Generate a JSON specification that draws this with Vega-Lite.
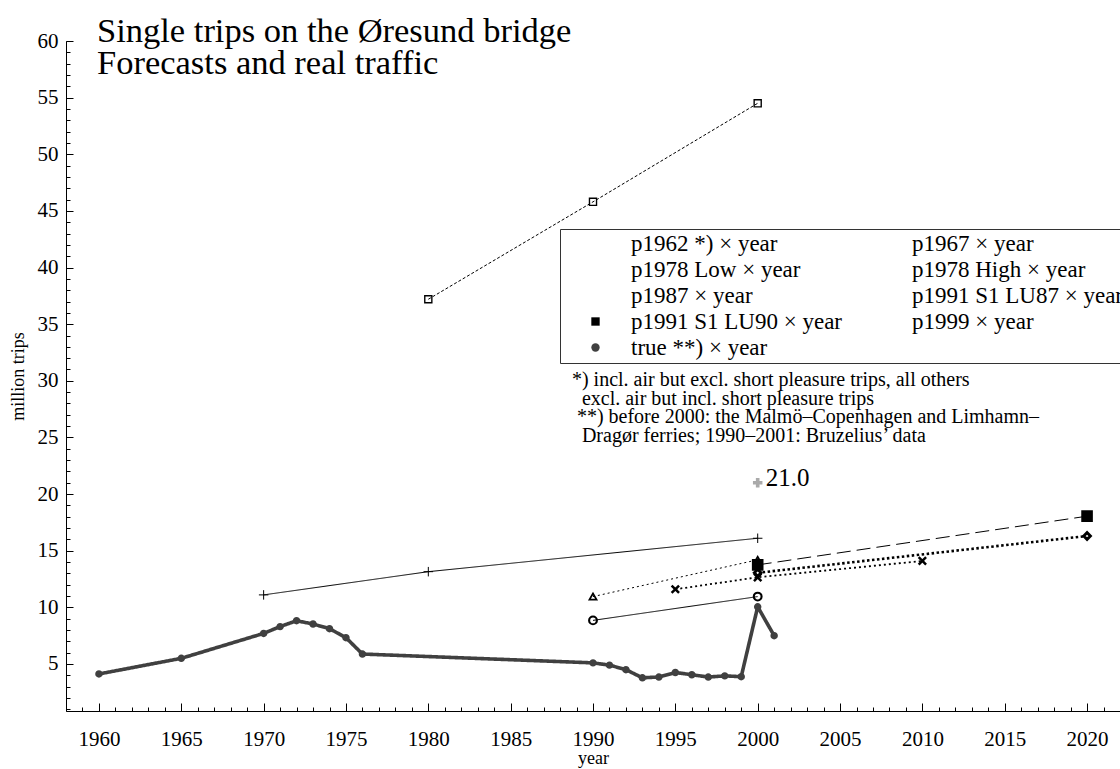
{
  "$schema": "https://vega.github.io/schema/vega-lite/v6.json",
  "width": 1054,
  "height": 670,
  "autosize": {"type": "none"},
  "padding": {"left": 66, "top": 41, "right": 0, "bottom": 58},
  "background": "white",
  "config": {
    "font": "Liberation Serif",
    "view": {"stroke": null},
    "axis": {"domainColor": "black", "tickColor": "black", "labelColor": "black", "titleColor": "black", "labelFont": "Liberation Serif", "titleFont": "Liberation Serif", "titleFontWeight": "normal", "grid": false, "labelFlush": false, "labelOverlap": false}
  },
  "title": {
    "text": ["Single trips on the Øresund bridge", "Forecasts and real traffic"],
    "anchor": "start", "frame": "group", "font": "Liberation Serif", "fontSize": 34.5, "lineHeight": 32,
    "fontWeight": "normal", "color": "black", "baseline": "alphabetic", "offset": -78, "dx": 31
  },
  "resolve": {"axis": {"x": "independent", "y": "independent"}},
  "data": {"values": [
    {"series": "p1962 *) × year", "year": 1970, "value": 11.1},
    {"series": "p1962 *) × year", "year": 1980, "value": 13.15},
    {"series": "p1962 *) × year", "year": 2000, "value": 16.1},
    {"series": "p1967 × year", "year": 1980, "value": 37.2},
    {"series": "p1967 × year", "year": 1990, "value": 45.8},
    {"series": "p1967 × year", "year": 2000, "value": 54.5},
    {"series": "p1978 Low × year", "year": 1990, "value": 8.85},
    {"series": "p1978 Low × year", "year": 2000, "value": 10.95},
    {"series": "p1978 High × year", "year": 1990, "value": 10.95},
    {"series": "p1978 High × year", "year": 2000, "value": 14.2},
    {"series": "p1987 × year", "year": 1995, "value": 11.6},
    {"series": "p1987 × year", "year": 2000, "value": 12.65},
    {"series": "p1987 × year", "year": 2010, "value": 14.1},
    {"series": "p1991 S1 LU87 × year", "year": 2000, "value": 13.05},
    {"series": "p1991 S1 LU87 × year", "year": 2020, "value": 16.3},
    {"series": "p1991 S1 LU90 × year", "year": 2000, "value": 13.75},
    {"series": "p1991 S1 LU90 × year", "year": 2020, "value": 18.05},
    {"series": "p1999 × year", "year": 2000, "value": 21.0},
    {"series": "true **) × year", "year": 1960, "value": 4.12},
    {"series": "true **) × year", "year": 1965, "value": 5.5},
    {"series": "true **) × year", "year": 1970, "value": 7.7},
    {"series": "true **) × year", "year": 1971, "value": 8.3},
    {"series": "true **) × year", "year": 1972, "value": 8.82},
    {"series": "true **) × year", "year": 1973, "value": 8.53},
    {"series": "true **) × year", "year": 1974, "value": 8.12},
    {"series": "true **) × year", "year": 1975, "value": 7.32},
    {"series": "true **) × year", "year": 1976, "value": 5.88},
    {"series": "true **) × year", "year": 1990, "value": 5.1},
    {"series": "true **) × year", "year": 1991, "value": 4.9},
    {"series": "true **) × year", "year": 1992, "value": 4.5},
    {"series": "true **) × year", "year": 1993, "value": 3.78},
    {"series": "true **) × year", "year": 1994, "value": 3.85},
    {"series": "true **) × year", "year": 1995, "value": 4.25},
    {"series": "true **) × year", "year": 1996, "value": 4.05},
    {"series": "true **) × year", "year": 1997, "value": 3.85},
    {"series": "true **) × year", "year": 1998, "value": 3.95},
    {"series": "true **) × year", "year": 1999, "value": 3.88},
    {"series": "true **) × year", "year": 2000, "value": 10.05},
    {"series": "true **) × year", "year": 2001, "value": 7.5}
  ]},
  "layer": [
    {
      "mark": {"type": "line", "strokeJoin": "round"},
      "encoding": {
        "x": {"field": "year", "type": "quantitative", "scale": {"domain": [1958, 2022], "nice": false, "zero": false},
          "axis": {"orient": "bottom", "values": [1960, 1965, 1970, 1975, 1980, 1985, 1990, 1995, 2000, 2005, 2010, 2015, 2020], "format": "d", "tickSize": -8, "labelPadding": 25, "labelFontSize": 21, "title": "year", "titleFontSize": 18, "titlePadding": 0}},
        "y": {"field": "value", "type": "quantitative", "scale": {"domain": [0.85, 60], "nice": false, "zero": false},
          "axis": {"orient": "left", "values": [5, 10, 15, 20, 25, 30, 35, 40, 45, 50, 55, 60], "tickSize": -7, "labelPadding": 15, "labelFontSize": 21, "title": "million trips", "titleFontSize": 18, "titlePadding": 10}},
        "stroke": {"field": "series", "type": "nominal", "legend": null, "scale": {
          "domain": ["true **) × year", "p1999 × year", "p1991 S1 LU90 × year", "p1991 S1 LU87 × year", "p1987 × year", "p1978 High × year", "p1978 Low × year", "p1967 × year", "p1962 *) × year"],
          "range": ["#404040", "#aaaaaa", "black", "black", "black", "black", "black", "black", "black"]}},
        "strokeDash": {"field": "series", "type": "nominal", "legend": null, "scale": {
          "domain": ["true **) × year", "p1999 × year", "p1991 S1 LU90 × year", "p1991 S1 LU87 × year", "p1987 × year", "p1978 High × year", "p1978 Low × year", "p1967 × year", "p1962 *) × year"],
          "range": [[1, 0], [1, 0], [14, 6], [2.5, 2.5], [2, 3], [2, 3], [1, 0], [3, 2], [1, 0]]}},
        "strokeWidth": {"field": "series", "type": "ordinal", "legend": null, "scale": {"type": "ordinal",
          "domain": ["true **) × year", "p1999 × year", "p1991 S1 LU90 × year", "p1991 S1 LU87 × year", "p1987 × year", "p1978 High × year", "p1978 Low × year", "p1967 × year", "p1962 *) × year"],
          "range": [3.6, 1.5, 1, 2.6, 1.8, 1, 1, 1, 1]}}
      }
    },
    {
      "mark": {"type": "point", "filled": false, "opacity": 1},
      "encoding": {
        "x": {"field": "year", "type": "quantitative",
          "axis": {"orient": "bottom", "values": [1958, 1959, 1960, 1961, 1962, 1963, 1964, 1965, 1966, 1967, 1968, 1969, 1970, 1971, 1972, 1973, 1974, 1975, 1976, 1977, 1978, 1979, 1980, 1981, 1982, 1983, 1984, 1985, 1986, 1987, 1988, 1989, 1990, 1991, 1992, 1993, 1994, 1995, 1996, 1997, 1998, 1999, 2000, 2001, 2002, 2003, 2004, 2005, 2006, 2007, 2008, 2009, 2010, 2011, 2012, 2013, 2014, 2015, 2016, 2017, 2018, 2019, 2020, 2021, 2022], "labels": false, "tickSize": -4, "domain": false, "title": null}},
        "y": {"field": "value", "type": "quantitative",
          "axis": {"orient": "left", "values": [1, 2, 3, 4, 5, 6, 7, 8, 9, 10, 11, 12, 13, 14, 15, 16, 17, 18, 19, 20, 21, 22, 23, 24, 25, 26, 27, 28, 29, 30, 31, 32, 33, 34, 35, 36, 37, 38, 39, 40, 41, 42, 43, 44, 45, 46, 47, 48, 49, 50, 51, 52, 53, 54, 55, 56, 57, 58, 59, 60], "labels": false, "tickSize": -4, "domain": false, "title": null}},
        "stroke": {"field": "series", "type": "nominal", "legend": null},
        "strokeWidth": {"field": "series", "type": "ordinal", "legend": null},
        "fill": {"field": "series", "type": "nominal", "scale": {
          "domain": ["p1962 *) × year", "p1967 × year", "p1978 Low × year", "p1978 High × year", "p1987 × year", "p1991 S1 LU87 × year", "p1991 S1 LU90 × year", "p1999 × year", "true **) × year"],
          "range": ["transparent", "transparent", "transparent", "transparent", "transparent", "white", "black", "transparent", "#404040"]},
          "legend": {"orient": "none", "direction": "horizontal", "legendX": 494, "legendY": 188, "columns": 2, "title": null, "labelFontSize": 23, "labelFont": "Liberation Serif", "labelColor": "black", "labelLimit": 400, "symbolSize": 70, "symbolStrokeColor": "black", "symbolStrokeWidth": 1.3, "symbolOffset": 21, "labelOffset": 24, "rowPadding": 2, "columnPadding": 2, "padding": 3, "strokeColor": "#333333", "fillColor": "white"}},
        "size": {"field": "series", "type": "ordinal", "legend": null, "scale": {"type": "ordinal",
          "domain": ["true **) × year", "p1999 × year", "p1991 S1 LU90 × year", "p1991 S1 LU87 × year", "p1987 × year", "p1978 High × year", "p1978 Low × year", "p1967 × year", "p1962 *) × year"],
          "range": [12, 90, 70, 45, 55, 50, 60, 50, 90]}},
        "shape": {"field": "series", "type": "nominal", "scale": {
          "domain": ["p1962 *) × year", "p1967 × year", "p1978 Low × year", "p1978 High × year", "p1987 × year", "p1991 S1 LU87 × year", "p1991 S1 LU90 × year", "p1999 × year", "true **) × year"],
          "range": ["M-1,0H1M0,-1V1", "square", "circle", "triangle-up", "M-1,-1L1,1M-1,1L1,-1", "diamond", "square", "M-1,0H1M0,-1V1", "circle"]},
          "legend": {"orient": "none", "direction": "horizontal", "legendX": 494, "legendY": 188, "columns": 2, "title": null, "labelFontSize": 23, "labelFont": "Liberation Serif", "labelColor": "black", "labelLimit": 400, "symbolSize": 70, "symbolStrokeColor": "black", "symbolStrokeWidth": 1.3, "symbolOffset": 21, "labelOffset": 24, "rowPadding": 2, "columnPadding": 2, "padding": 3, "strokeColor": "#333333", "fillColor": "white"}}
      }
    },
    {
      "transform": [{"filter": "datum.series === 'p1999 × year'"}],
      "mark": {"type": "text", "align": "left", "baseline": "middle", "dx": 8, "dy": -5, "fontSize": 25, "font": "Liberation Serif", "color": "black"},
      "encoding": {
        "x": {"field": "year", "type": "quantitative", "axis": null},
        "y": {"field": "value", "type": "quantitative", "axis": null},
        "text": {"field": "value", "type": "quantitative", "format": ".1f"}
      }
    },
    {
      "data": {"values": [{"note": ["*) incl. air but excl. short pleasure trips, all others", "\u200b\u00a0\u00a0excl. air but incl. short pleasure trips", "\u200b\u00a0**) before 2000: the Malmö–Copenhagen and Limhamn–", "\u200b\u00a0\u00a0Dragør ferries; 1990–2001: Bruzelius’ data"]}]},
      "mark": {"type": "text", "align": "left", "baseline": "top", "fontSize": 20, "lineHeight": 18.5, "font": "Liberation Serif", "color": "black"},
      "encoding": {
        "x": {"datum": 1988.72, "type": "quantitative", "axis": null},
        "y": {"datum": 30.95, "type": "quantitative", "axis": null},
        "text": {"field": "note"}
      }
    }
  ]
}
